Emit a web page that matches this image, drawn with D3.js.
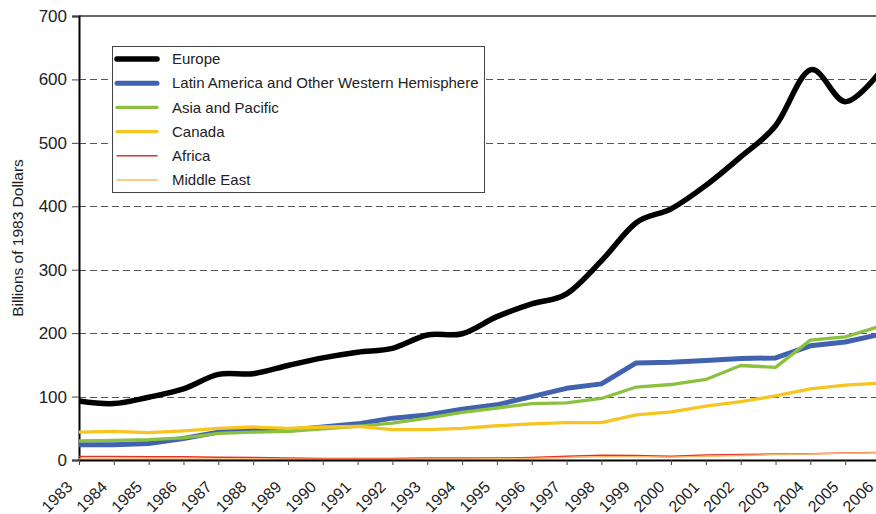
<!DOCTYPE html>
<html>
<head>
<meta charset="utf-8">
<script src="https://cdn.jsdelivr.net/npm/d3@7"></script>
<style>
  body { margin: 0; background: #fff; }
  text { font-family: "Liberation Sans", Arial, sans-serif; fill: #222; }
</style>
</head>
<body>
<svg width="876" height="514"></svg>
<script>
var width = 876;
var height = 514;

// Data (billions of 1983 dollars)
var years = d3.range(1983, 2007);
var europe    = [93, 89, 99, 112, 135, 136, 149, 161, 170, 176, 197, 199, 226, 246, 262, 314, 374, 396, 433, 478, 527, 615, 565, 612];
var latinAm   = [24, 24, 26, 34, 44, 47, 47, 52, 57, 66, 71, 80, 87, 100, 113, 120, 153, 154, 157, 160, 161, 180, 186, 198];
var asiaPac   = [30, 31, 32, 35, 42, 44, 45, 49, 53, 58, 66, 75, 82, 89, 90, 97, 115, 119, 127, 149, 146, 189, 194, 211];
var canada    = [44, 45, 43, 46, 50, 52, 50, 52, 53, 48, 48, 50, 54, 57, 59, 59, 71, 76, 85, 92, 101, 112, 118, 121];
var africa    = [5.5, 5.5, 5, 5, 4.5, 4, 3, 2.5, 2.5, 2.5, 3, 3, 3, 4, 6, 7.5, 7, 6, 8, 8.5, 9.5, 10, 11, 12];
var middleEast = [1.5, 1.5, 1.5, 1.5, 1.5, 1.5, 1, 1, 1, 1, 1.5, 1.5, 2, 2.5, 4, 5, 5, 4.5, 6, 7, 8.5, 9.5, 10.5, 11.5];
var yTicks = [0, 100, 200, 300, 400, 500, 600, 700];

var series = [
    {name: 'Europe', values: europe, color: '#000000', width: 5.5, smooth: true},
    {name: 'Latin America and Other Western Hemisphere', values: latinAm, color: '#4163AF', width: 5},
    {name: 'Asia and Pacific', values: asiaPac, color: '#8CC03F', width: 3.3},
    {name: 'Canada', values: canada, color: '#F6C521', width: 3.3},
    {name: 'Africa', values: africa, color: '#E8302A', width: 1.5},
    {name: 'Middle East', values: middleEast, color: '#FBB862', width: 1.5}
];

var svg = d3.select('svg')
        .attr('width', width)
        .attr('height', height);

var x = d3.scaleLinear()
            .domain([1983, 2006])
            .range([79, 880]);

var y = d3.scaleLinear()
            .domain([0, 700])
            .range([460, 16]);

// dashed gridlines
svg.append('g')
    .selectAll('line')
    .data(yTicks.filter(d => d > 0 && d < 700))
    .enter()
    .append('line')
        .attr('x1', 79)
        .attr('x2', width)
        .attr('y1', d => Math.round(y(d)) + 0.5)
        .attr('y2', d => Math.round(y(d)) + 0.5)
        .attr('stroke', '#555')
        .attr('stroke-dasharray', '7,4');

// top border line
svg.append('line')
    .attr('x1', 79)
    .attr('x2', width)
    .attr('y1', y(700))
    .attr('y2', y(700))
    .attr('stroke', '#333')
    .attr('stroke-width', 1.5);

// y axis
var yAxis = svg.append('g')
    .attr('transform', 'translate(79,0)')
    .call(d3.axisLeft(y).tickValues(yTicks).tickSize(7).tickPadding(5));
yAxis.select('.domain').attr('stroke', '#000').attr('stroke-width', 2);
yAxis.selectAll('.tick line').attr('stroke', '#444');
yAxis.selectAll('.tick text')
    .style('font-size', '17px')
    .style('font-family', '"Liberation Sans", Arial, sans-serif')
    .attr('fill', '#222');

svg.append('text')
    .attr('transform', 'translate(23,' + y(350) + ') rotate(-90)')
    .attr('text-anchor', 'middle')
    .style('font-size', '15.5px')
    .text('Billions of 1983 Dollars');

var lineLinear = d3.line()
    .x((d, i) => x(years[i]))
    .y(d => y(d));
var lineSmooth = d3.line()
    .curve(d3.curveCatmullRom.alpha(0))
    .x((d, i) => x(years[i]))
    .y(d => y(d));

svg.append('g')
    .selectAll('path')
    .data(series)
    .enter()
    .append('path')
        .attr('d', d => (d.smooth ? lineSmooth : lineLinear)(d.values))
        .attr('fill', 'none')
        .attr('stroke', d => d.color)
        .attr('stroke-width', d => d.width)
        .attr('stroke-linejoin', 'round')
        .attr('stroke-linecap', 'butt');

// x axis
var xAxis = svg.append('g')
    .attr('transform', 'translate(0,460)')
    .call(d3.axisBottom(x).tickValues(years).tickFormat(d3.format('d')).tickSize(5).tickSizeOuter(0));
xAxis.select('.domain').attr('stroke', '#000').attr('stroke-width', 2);
xAxis.selectAll('.tick line').attr('stroke', '#444');
xAxis.selectAll('.tick text')
    .style('font-size', '16px')
    .style('font-family', '"Liberation Sans", Arial, sans-serif')
    .attr('fill', '#222')
    .attr('text-anchor', 'end')
    .attr('dy', '0.35em')
    .attr('y', 0)
    .attr('transform', 'translate(-10,24) rotate(-45)');

// legend
var legend = svg.append('g');
legend.append('rect')
    .attr('x', 112.5)
    .attr('y', 46.5)
    .attr('width', 372)
    .attr('height', 146)
    .attr('fill', '#fff')
    .attr('stroke', '#444');

var item = legend.selectAll('.item')
    .data(series)
    .enter()
    .append('g')
        .classed('item', true)
        .attr('transform', (d, i) => `translate(0, ${59 + i * 24.2})`);

item.append('line')
    .attr('x1', 117)
    .attr('x2', 157)
    .attr('stroke', d => d.color)
    .attr('stroke-width', d => d.width)
    .attr('stroke-linecap', 'round');

item.append('text')
    .attr('x', 172)
    .attr('dy', '0.35em')
    .style('font-size', '15px')
    .text(d => d.name);
</script>
</body>
</html>
